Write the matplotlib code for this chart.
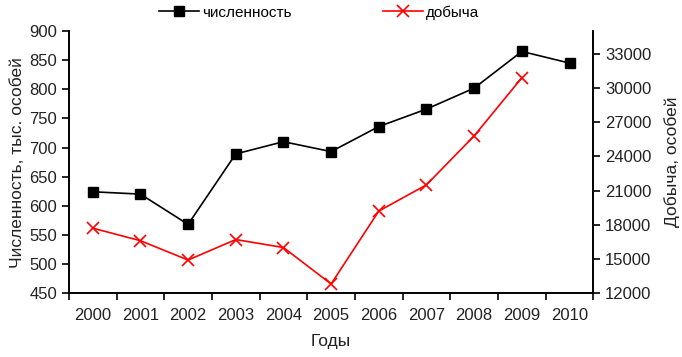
import numpy as np
import matplotlib
matplotlib.use("Agg")
import matplotlib.pyplot as plt

plt.rcParams['font.family'] = ['Liberation Sans', 'DejaVu Sans']
plt.rcParams['font.size'] = 12

years = ['2000', '2001', '2002', '2003', '2004', '2005', '2006', '2007', '2008', '2009', '2010']
# численность, тыс. особей (left axis)
population = [624, 620, 568, 689, 710, 693, 736, 766, 802, 865, 845]
# добыча, особей (right axis); no value for 2010
harvest = [17700, 16600, 14900, 16700, 16000, 12800, 19200, 21500, 25800, 30900]

left_ticks = [450, 500, 550, 600, 650, 700, 750, 800, 850, 900]
right_ticks = [12000, 15000, 18000, 21000, 24000, 27000, 30000, 33000]

fig = plt.figure(figsize=(6.82, 3.57), dpi=100)
ax = fig.add_axes([0.101, 0.179, 0.769, 0.734])
ax2 = ax.twinx()

x = np.arange(len(years))
l1, = ax.plot(x, population, color='black', marker='s', markersize=7,
              linewidth=1.2, label='численность')
l2, = ax2.plot(x[:len(harvest)], harvest, color='red', marker='x', markersize=9,
               markeredgewidth=1.2, linewidth=1.2, label='добыча')

ax.set_xlim(-0.5, len(years) - 0.5)
ax.set_ylim(450, 900)
ax.set_yticks(left_ticks)
ax2.set_ylim(12000, 35000)
ax2.set_yticks(right_ticks)

# category ticks between years, labels centered
ax.set_xticks(np.arange(len(years) + 1) - 0.5)
ax.set_xticklabels([])
ax.set_xticks(x, minor=True)
ax.set_xticklabels(years, minor=True)
ax.tick_params(axis='x', which='minor', length=0, pad=11, labelcolor='#222222')
ax.tick_params(axis='x', which='major', length=5, width=1.2, direction='out')
ax.tick_params(axis='y', length=5, width=1.2, direction='out', labelcolor='#222222')
ax2.tick_params(axis='y', length=5, width=1.2, direction='out', labelcolor='#222222')

for a in (ax, ax2):
    a.spines['top'].set_visible(False)
    for s in ('left', 'bottom', 'right'):
        a.spines[s].set_linewidth(1.4)
ax.spines['right'].set_visible(False)
ax2.spines['left'].set_visible(False)
ax2.spines['bottom'].set_visible(False)

ax.set_ylabel('Численность, тыс. особей', fontsize=12.5, color='#222222', labelpad=3)
ax.set_xlabel('Годы', fontsize=12.5, color='#222222', labelpad=8)
ax2.set_ylabel('Добыча, особей', fontsize=12.5, color='#222222', labelpad=9)

fig.legend(handles=[l1, l2], loc='center', bbox_to_anchor=(0.468, 0.965), ncol=2,
           frameon=False, fontsize=11, handlelength=2.6, handletextpad=0.2,
           columnspacing=6.0)

fig.savefig('out.png', dpi=100)
